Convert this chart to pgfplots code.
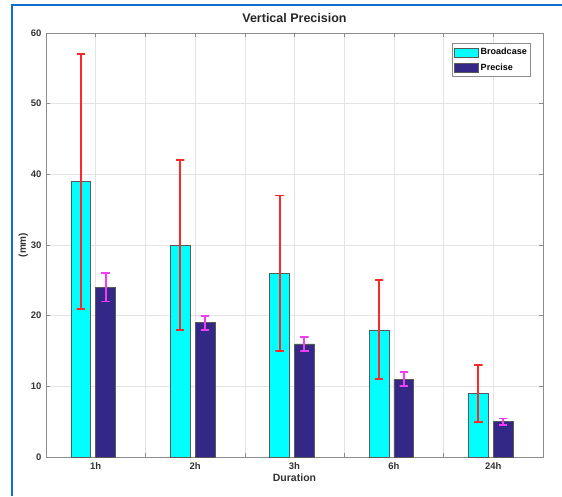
\documentclass[border=0pt]{standalone}
\usepackage{pgfplots}
\pgfplotsset{compat=1.18}
\usepackage{pgfplotstable}
\usepackage{fontspec}
\setmainfont{Liberation Sans}
\definecolor{framecol}{RGB}{16,110,205}
\definecolor{cyanbar}{RGB}{0,255,255}
\definecolor{navybar}{RGB}{52,40,135}
\definecolor{errred}{RGB}{255,40,40}
\definecolor{errmag}{RGB}{245,60,245}
\definecolor{gridcol}{RGB}{228,228,228}
\definecolor{axcol}{RGB}{140,140,140}
\pgfplotstableread{
x y
1 39
2 30
3 26
4 18
5 9
}\broadcast
\pgfplotstableread{
x y
1 24
2 19
3 16
4 11
5 5
}\precise
\begin{document}
\begin{tikzpicture}[x=1pt,y=1pt]
\path[use as bounding box] (0,0) rectangle (562,496);
\draw[framecol, line width=2pt] (12,0) -- (12,491) -- (562,491);
\begin{axis}[
  at={(46pt,39pt)}, anchor=south west,
  scale only axis, width=497pt, height=424pt,
  xmin=0.5, xmax=5.5, ymin=0, ymax=60,
  xtick={1,2,3,4,5},
  xticklabels={1h,2h,3h,6h,24h},
  minor xtick={1.5,2.5,3.5,4.5},
  ytick={0,10,20,30,40,50,60},
  grid=both,
  major grid style={gridcol, line width=0.6pt},
  minor grid style={gridcol, line width=0.6pt},
  tick align=inside,
  major tick length=4pt, minor tick length=4pt,
  tick style={axcol, line width=0.6pt},
  axis line style={axcol, line width=0.8pt},
  unbounded coords=jump,
  /pgf/number format/assume math mode=true,
  tick label style={font=\fontsize{9.5}{10}\selectfont\bfseries, text=black!80},
  xticklabel style={yshift=-2pt},
  yticklabel style={xshift=-1pt},
  title={Vertical Precision},
  title style={at={(0.5,1)}, anchor=base, yshift=4pt, font=\fontsize{12.5}{13}\selectfont\bfseries, text=black!85},
  xlabel={Duration},
  xlabel style={font=\fontsize{10.5}{11}\selectfont\bfseries, text=black!80, yshift=3pt},
  ylabel={(mm)},
  ylabel style={font=\fontsize{10}{11}\selectfont\bfseries, text=black!80, yshift=-4pt},
  legend style={at={(0.976,0.976)}, anchor=north east, draw=axcol, line width=0.6pt,
    font=\fontsize{9}{10}\selectfont\bfseries, row sep=3pt, inner xsep=2pt, inner ysep=3pt,
    cells={anchor=west}},
  legend image code/.code={\draw[#1, line width=0.6pt] (0pt,-4.5pt) rectangle (24pt,4.5pt);},
]
\addplot[ybar, bar width=0.2, bar shift=0, fill=cyanbar, draw=black!65, line width=0.6pt]
  table[x expr=\thisrow{x}-0.15, y=y] {\broadcast};
\addlegendentry{Broadcase}
\addplot[ybar, bar width=0.2, bar shift=0, fill=navybar, draw=black!65, line width=0.6pt]
  table[x expr=\thisrow{x}+0.1, y=y] {\precise};
\addlegendentry{Precise}
% Broadcast error bars: 39+-18, 30+-12, 26+-11, 18+-7, 9+-4
\addplot[errred, line width=1.9pt, mark=none, forget plot] coordinates {
  (0.808,57) (0.892,57) (0.85,57) (0.85,21) (0.808,21) (0.892,21) (nan,nan)
  (1.808,42) (1.892,42) (1.85,42) (1.85,18) (1.808,18) (1.892,18) (nan,nan)
  (2.808,37) (2.892,37) (2.85,37) (2.85,15) (2.808,15) (2.892,15) (nan,nan)
  (3.808,25) (3.892,25) (3.85,25) (3.85,11) (3.808,11) (3.892,11) (nan,nan)
  (4.808,13) (4.892,13) (4.85,13) (4.85,5) (4.808,5) (4.892,5)
};
% Precise error bars: 24+-2, 19+-1, 16+-1, 11+-1, 5+-0.45
\addplot[errmag, line width=1.9pt, mark=none, forget plot] coordinates {
  (1.058,26) (1.142,26) (1.1,26) (1.1,22) (1.058,22) (1.142,22) (nan,nan)
  (2.058,20) (2.142,20) (2.1,20) (2.1,18) (2.058,18) (2.142,18) (nan,nan)
  (3.058,17) (3.142,17) (3.1,17) (3.1,15) (3.058,15) (3.142,15) (nan,nan)
  (4.058,12) (4.142,12) (4.1,12) (4.1,10) (4.058,10) (4.142,10) (nan,nan)
  (5.058,5.45) (5.142,5.45) (5.1,5.45) (5.1,4.55) (5.058,4.55) (5.142,4.55)
};
\end{axis}
\end{tikzpicture}
\end{document}
